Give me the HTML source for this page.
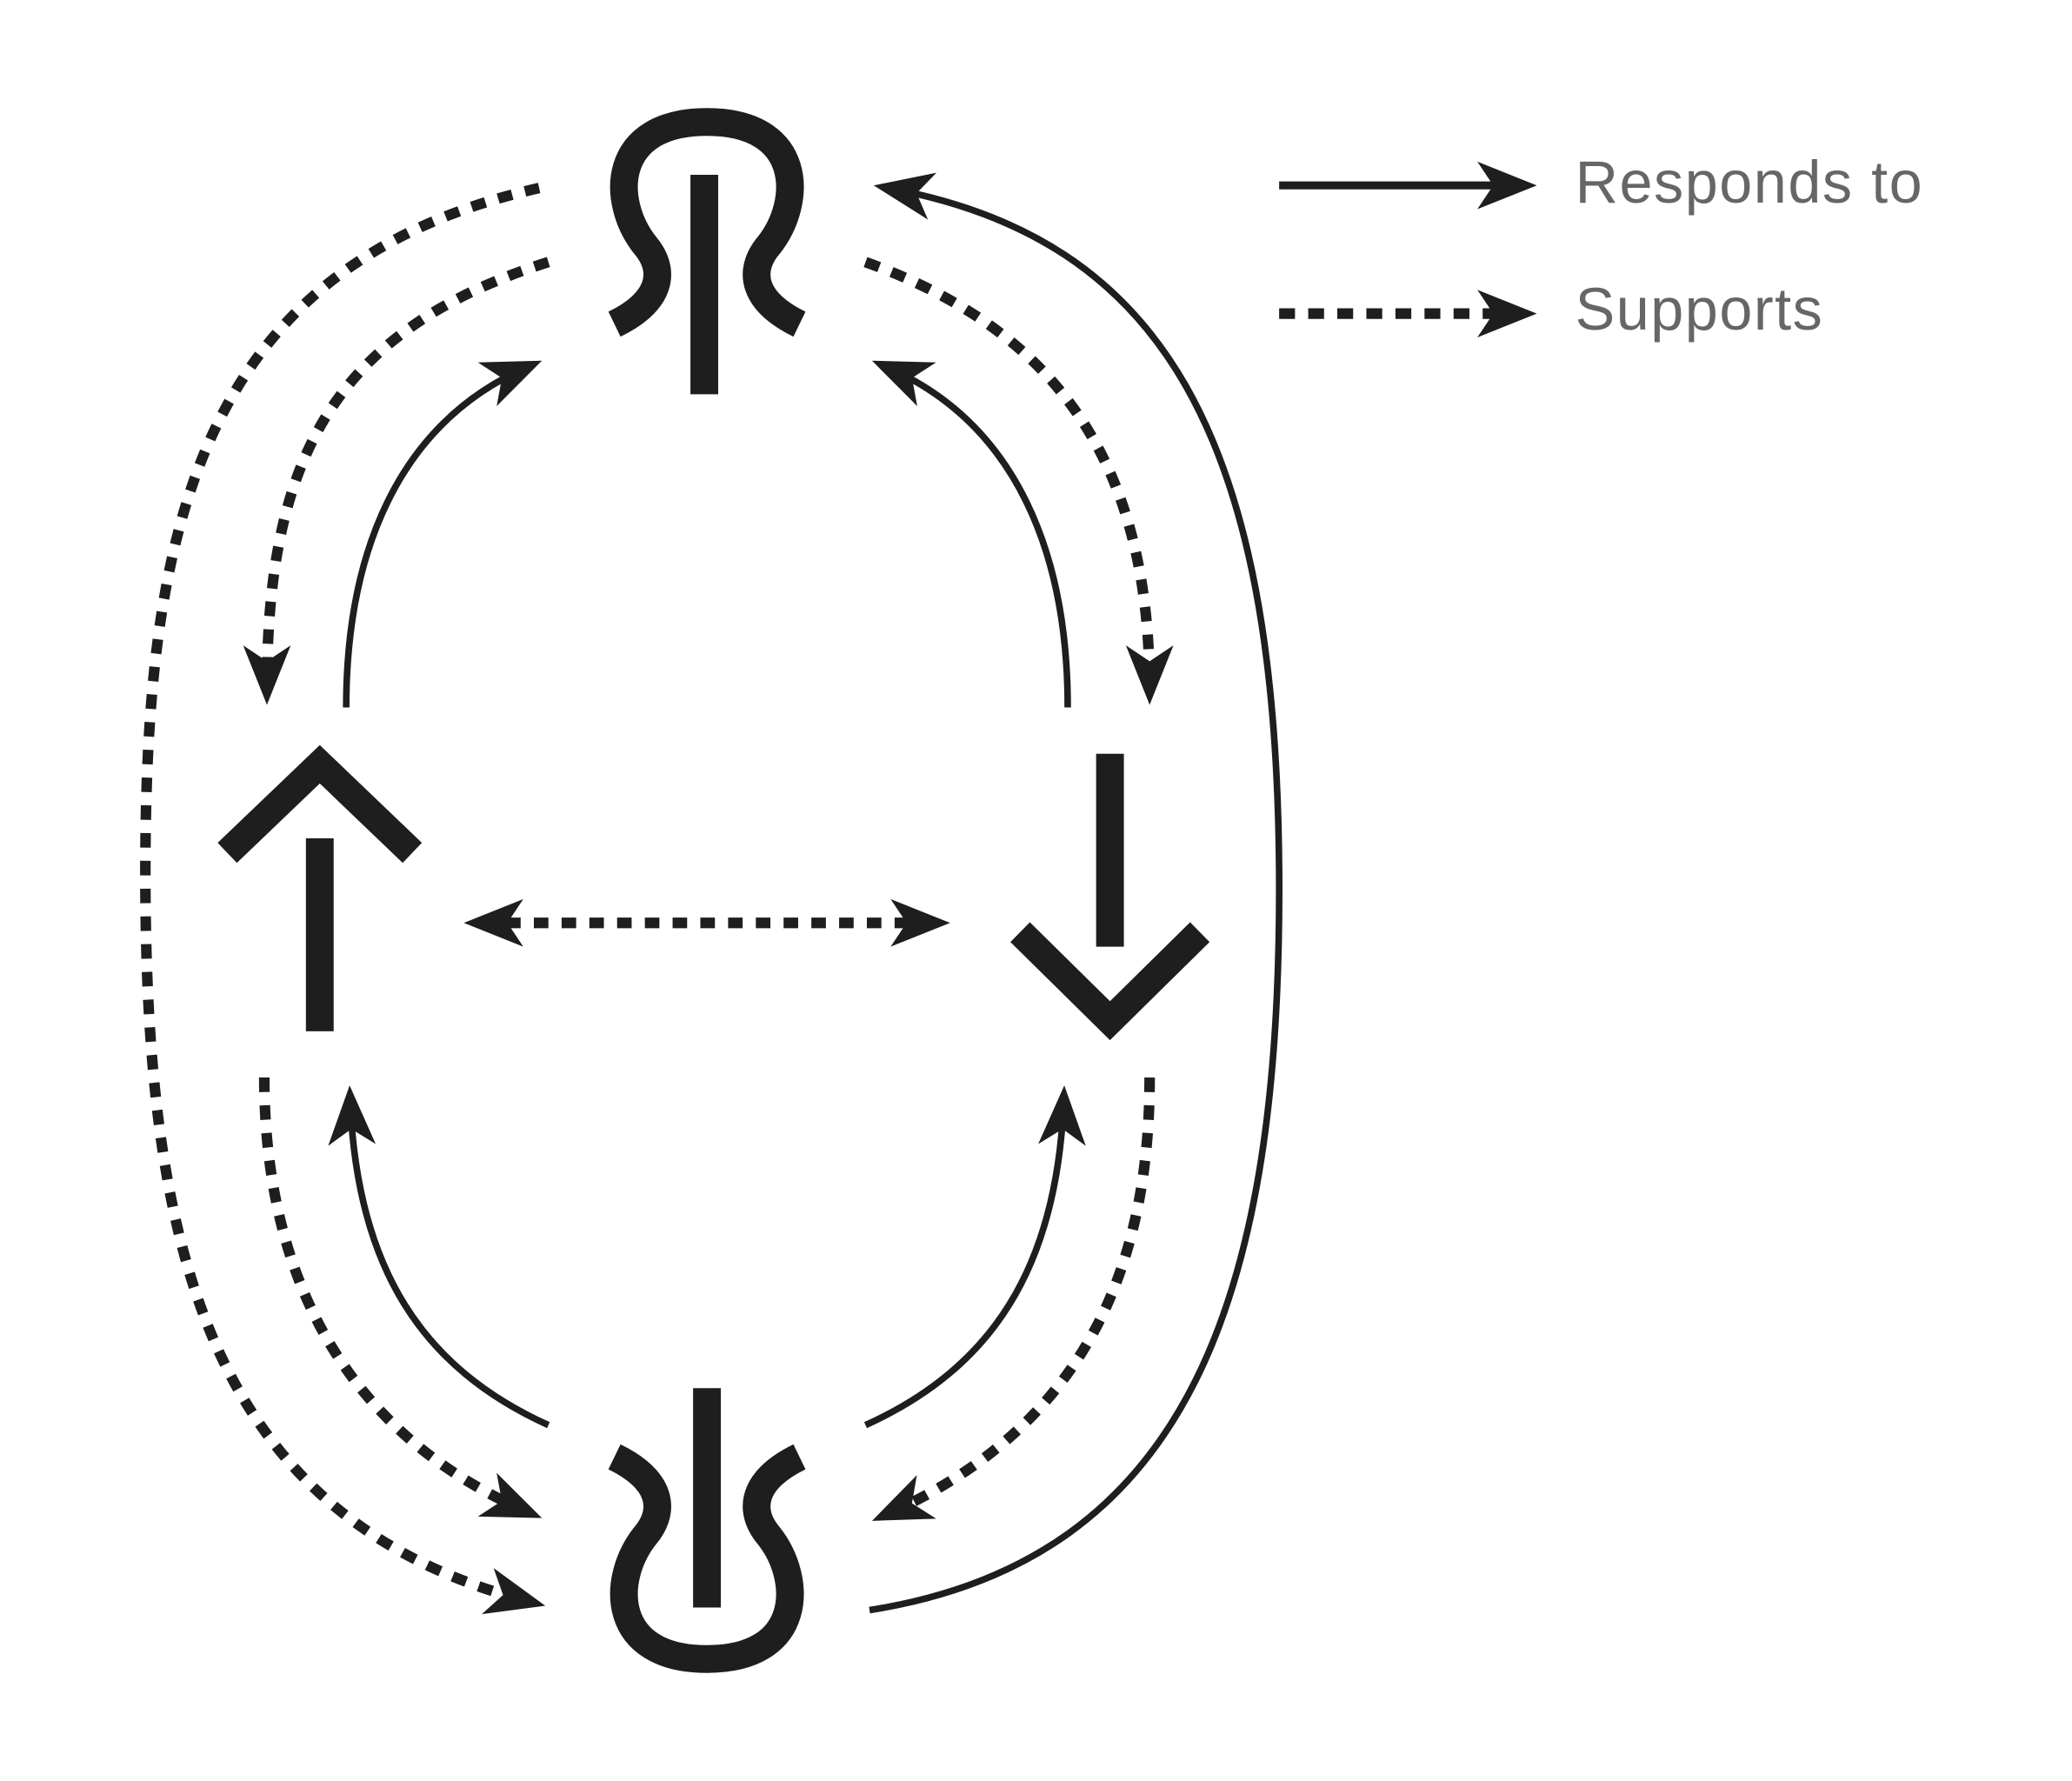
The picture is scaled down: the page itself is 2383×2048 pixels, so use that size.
<!DOCTYPE html>
<html><head><meta charset="utf-8"><style>html,body{margin:0;padding:0;background:#fff}svg{display:block}</style></head>
<body>
<svg width="2383" height="2048" viewBox="0 0 1568 1347" xmlns="http://www.w3.org/2000/svg">
<defs>
<marker id="a" markerUnits="userSpaceOnUse" markerWidth="50" markerHeight="40" refX="34" refY="18" orient="auto">
<path d="M0,0 L45,18 L0,36 L12,18 z" fill="#1e1e1e"/>
</marker>
<marker id="s" markerUnits="userSpaceOnUse" markerWidth="50" markerHeight="40" refX="34" refY="18" orient="auto-start-reverse">
<path d="M0,0 L45,18 L0,36 L12,18 z" fill="#1e1e1e"/>
</marker>
</defs>
<g fill="none" stroke="#1e1e1e" stroke-linecap="butt">
<path d="M465,245 C500,228 505,205 488,185 C462,152 462,92 535,92 C608,92 608,152 582,185 C565,205 570,228 605,245" stroke-width="21"/>
<line x1="533" y1="132" x2="533" y2="298" stroke-width="21"/>
<path d="M465,1102 C500,1119 505,1142 488,1162 C462,1195 462,1255 535,1255 C608,1255 608,1195 582,1162 C565,1142 570,1119 605,1102" stroke-width="21"/>
<line x1="535" y1="1050" x2="535" y2="1216" stroke-width="21"/>
<polyline points="172,645 242,578 312,645" stroke-width="21"/>
<line x1="242" y1="634" x2="242" y2="780" stroke-width="21"/>
<line x1="840" y1="570" x2="840" y2="716" stroke-width="21"/>
<polyline points="772,705 840,772 908,705" stroke-width="21"/>

<g stroke-width="5" marker-end="url(#a)">
<path d="M262,535 C262,420 300,320 400,277"/>
<path d="M808,535 C808,420 770,320 670,277"/>
<path d="M415,1078 C320,1035 270,960 265,832"/>
<path d="M655,1078 C750,1035 800,960 805,832"/>
<path d="M658,1218 C900,1180 970,980 968,660 C966,330 880,180 672,142"/>
</g>
<g stroke-width="8" stroke-dasharray="11 10" marker-end="url(#a)">
<path d="M408,142 C150,200 110,400 110,660 C110,950 160,1150 402,1212"/>
<path d="M415,198 C250,250 202,350 202,522"/>
<path d="M655,198 C800,250 870,350 870,522"/>
<path d="M200,815 C200,950 250,1080 400,1144"/>
<path d="M870,815 C870,960 820,1080 670,1146"/>
<path d="M362,698 L708,698" marker-start="url(#s)"/>
</g>
<line x1="968" y1="140" x2="1152" y2="140" stroke-width="6" marker-end="url(#a)"/>
<line x1="968" y1="237" x2="1152" y2="237" stroke-width="8" stroke-dasharray="12 10" marker-end="url(#a)"/>
</g>
<g font-family="Liberation Sans, sans-serif" font-size="45" fill="#666" letter-spacing="1">
<text x="1192" y="153">Responds to</text>
<text x="1192" y="249">Supports</text>
</g>
</svg>
</body></html>
